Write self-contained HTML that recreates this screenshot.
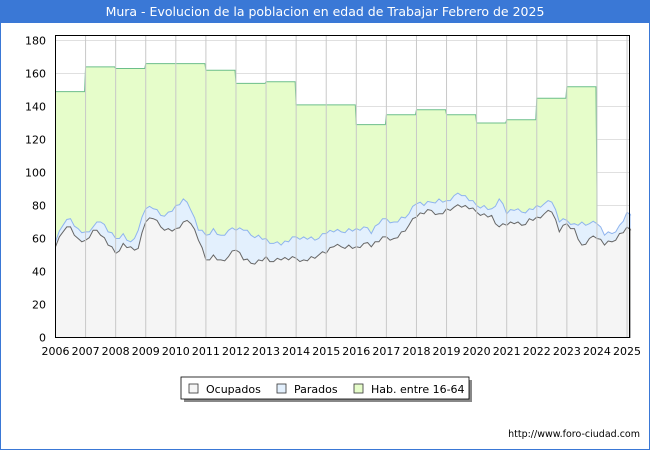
<!DOCTYPE html>
<html><head><meta charset="utf-8"><style>
body{margin:0;width:650px;height:450px;overflow:hidden;background:#fff;font-family:"Liberation Sans","DejaVu Sans",sans-serif}
</style></head><body>
<svg id="s" width="650" height="450" xmlns="http://www.w3.org/2000/svg" font-family="DejaVu Sans, Liberation Sans, sans-serif">
<rect x="0.5" y="0.5" width="649" height="449" fill="#fff" stroke="#3a78d6"/>
<rect x="0" y="0" width="650" height="23" fill="#3a78d6"/>
<text x="325" y="16" fill="#fff" font-size="12.5" text-anchor="middle">Mura - Evolucion de la poblacion en edad de Trabajar Febrero de 2025</text>
<g id="grid"></g>
<path id="hab" fill="#e6fdca" stroke="#6cbf8a" stroke-width="1"/>
<path id="par" fill="#e3f0fd" stroke="#8fb4ee" stroke-width="1"/>
<path id="ocu" fill="#f5f5f5" stroke="#666" stroke-width="1"/>
<g id="vg"></g>
<rect x="55.5" y="35.5" width="574" height="302" fill="none" stroke="#000"/>
<g id="lab" font-size="11" fill="#000"></g>
<rect x="184" y="380" width="288" height="22" fill="#888"/>
<rect x="181" y="377" width="288" height="22" fill="#fff" stroke="#000" stroke-width="0.8"/>
<rect x="189" y="384" width="9" height="9" fill="#f5f5f5" stroke="#333" stroke-width="0.8"/>
<text x="206" y="393" font-size="11">Ocupados</text>
<rect x="277" y="384" width="9" height="9" fill="#e3f0fd" stroke="#333" stroke-width="0.8"/>
<text x="294" y="393" font-size="11">Parados</text>
<rect x="354" y="384" width="9" height="9" fill="#e6fdca" stroke="#333" stroke-width="0.8"/>
<text x="371" y="393" font-size="11">Hab. entre 16-64</text>
<text x="640" y="437" font-size="9.5" text-anchor="end">http://www.foro-ciudad.com</text>
</svg>
<script>
var X=t=>55.5+(t-2006)*30.08, Y=v=>337.5-v*1.65;
var g='',vg='',lab='';
for(var v=0;v<=180;v+=20){g+='<line x1="55.5" x2="629.5" y1="'+Y(v)+'" y2="'+Y(v)+'" stroke="#e0e0e0"/>';lab+='<text x="46" y="'+(Y(v)+4)+'" text-anchor="end">'+v+'</text>';}
for(var yr=2006;yr<=2025;yr++){vg+='<line x1="'+X(yr)+'" x2="'+X(yr)+'" y1="35.5" y2="337.5" stroke="#c8c8c8"/>';lab+='<text x="'+X(yr)+'" y="355" text-anchor="middle">'+yr+'</text>';}
document.getElementById('grid').innerHTML=g;document.getElementById('vg').innerHTML=vg;document.getElementById('lab').innerHTML=lab;
var hab=[149,164,163,166,166,162,154,155,141,141,129,135,138,135,130,132,145,152];
var d='M'+X(2006)+','+Y(0)+' L'+X(2006)+','+Y(hab[0]);
for(var i=0;i<hab.length;i++){d+=' L'+X(2006+i)+','+Y(hab[i])+' L'+(X(2007+i)-1)+','+Y(hab[i]);}
d+=' L'+X(2024)+','+Y(89)+' L'+X(2024)+','+Y(0)+'Z';
document.getElementById('hab').setAttribute('d',d);
var oc=[55,64,67,60,59,65,62,56,51,57,55,54,70,72,67,66,66,70,69,59,47,50,47,49,53,47,45,47,49,46,47,47,48,47,49,50,51,55,55,56,55,57,55,58,61,60,64,68,73,75,77,75,78,79,79,78,76,75,74,67,68,69,68,72,73,75,76,64,69,66,56,60,60,56,58,63,67,66];
var pa=[58,68,72,66,64,67,70,64,60,63,58,65,78,78,74,76,80,84,77,65,62,66,62,65,65,65,62,62,60,57,56,58,61,61,61,60,63,64,64,66,66,67,63,69,72,70,73,75,81,80,82,84,83,86,86,83,80,80,78,84,75,77,76,78,80,81,82,70,71,69,70,69,69,62,63,68,76,75];
function area(a){var s='M'+X(2006)+','+Y(0);for(var i=0;i<a.length;i++){var t=2006+i*0.25;if(t>2025.1)t=2025.1;var w=(i%3?1.5:-1.5)*(i%2?1:-1);s+=' L'+X(t).toFixed(1)+','+Y(a[i]).toFixed(1);if(i<a.length-1)s+=' L'+X(t+0.125).toFixed(1)+','+Y((a[i]+a[i+1])/2+w).toFixed(1);}s+=' L'+X(2025.1)+','+Y(0)+'Z';return s;}
document.getElementById('par').setAttribute('d',area(pa));
document.getElementById('ocu').setAttribute('d',area(oc));
</script>
</body></html>
